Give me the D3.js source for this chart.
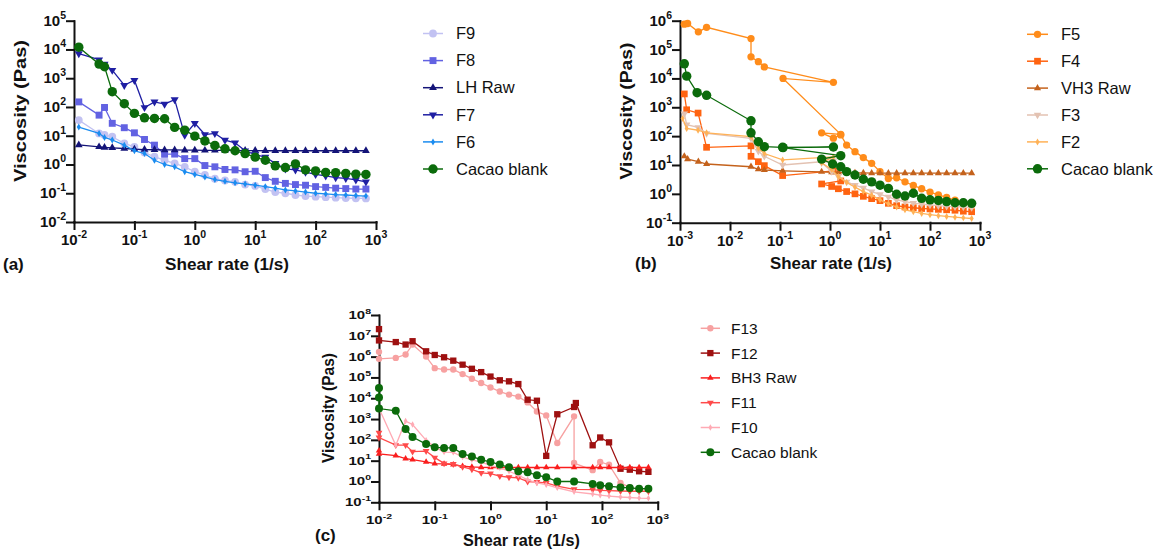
<!DOCTYPE html>
<html>
<head>
<meta charset="utf-8">
<script src="https://cdn.jsdelivr.net/npm/d3@7"></script>
<style>
  body { margin: 0; background: #fff; }
  svg { display: block; font-family: "Liberation Sans", Arial, sans-serif; }
</style>
</head>
<body>
<svg id="chart" width="1153" height="551"></svg>
<script>
// ---- panel (a) data: shear rate (1/s) and viscosity (Pas)
var aRate = [0.012, 0.026, 0.032, 0.043, 0.068, 0.1, 0.147, 0.215, 0.316, 0.464, 0.681, 1, 1.47, 2.15, 3.16, 4.64, 6.81, 10, 14.7, 21.5, 31.6, 46.4, 68.1, 100, 147, 215, 316, 464, 681];
var aF9 = [35, 12, 10.7, 9.2, 5.4, 4.1, 2.6, 1.86, 1.4, 1.1, 0.83, 0.56, 0.43, 0.32, 0.28, 0.25, 0.2, 0.18, 0.14, 0.11, 0.1, 0.087, 0.08, 0.076, 0.073, 0.07, 0.068, 0.067, 0.066];
var aF8 = [150, 52, 96, 27, 19, 12.6, 7.4, 4.7, 2.3, 2.3, 1.6, 1.6, 0.92, 0.83, 0.67, 0.65, 0.56, 0.58, 0.35, 0.26, 0.22, 0.2, 0.19, 0.17, 0.16, 0.15, 0.145, 0.14, 0.14];
var aLH = [4.8, 4.1, 3.9, 3.8, 3.6, 3.4, 3.3, 3.25, 3.2, 3.2, 3.15, 3.15, 3.1, 3.1, 3.1, 3.05, 3.05, 3.05, 3.0, 3.0, 3.0, 3.0, 3.0, 3.0, 3.0, 3.0, 3.0, 3.0, 3.0];
var aF7 = [7200, 4400, 3100, 1900, 570, 850, 96, 150, 125, 180, 10.5, 27, 11, 12, 7, 5.7, 3.0, 2.2, 1.8, 1.1, 0.7, 0.65, 0.54, 0.45, 0.4, 0.35, 0.33, 0.29, 0.25];
var aF6 = [20, 12, 8.7, 7.1, 4.7, 3.0, 2.4, 1.4, 1.0, 0.83, 0.56, 0.45, 0.37, 0.3, 0.26, 0.23, 0.21, 0.19, 0.17, 0.15, 0.13, 0.12, 0.11, 0.1, 0.095, 0.09, 0.087, 0.083, 0.08];
var aCacao = [1.2e4, 3.1e3, 2.5e3, 340, 130, 60, 42, 40, 39, 19.5, 15.6, 9.7, 6.6, 4.6, 3.5, 3.0, 2.4, 1.8, 1.4, 0.9, 0.78, 1.05, 0.65, 0.6, 0.53, 0.52, 0.49, 0.46, 0.45];

// ---- panel (b) data
var bF5Rate = [0.00122, 0.00142, 0.00233, 0.0034, 0.0263, 0.0263, 0.0369, 0.0486, 1.17, 0.115, 1.64, 0.68, 1.17, 1.64, 2.15, 3.16, 4.64, 6.81, 10, 14.7, 21.5, 31.6, 46.4, 68.1, 100, 147, 215, 316, 464, 681];
var bF5 = [7.6e5, 8e5, 4.1e5, 5.9e5, 2.4e5, 5.6e4, 3.8e4, 2.5e4, 7.3e3, 1e4, 115, 130, 85, 110, 49, 29, 18, 11.4, 5.9, 3.4, 3.6, 2.6, 1.95, 1.5, 1.15, 0.92, 0.75, 0.6, 0.5, 0.42];
var bF4Rate = [0.00122, 0.00136, 0.0023, 0.0034, 0.0263, 0.0263, 0.0369, 0.0486, 0.113, 1.17, 1.64, 0.68, 1.08, 1.47, 2.15, 3.16, 4.64, 6.81, 10, 14.7, 21.5, 31.6, 46.4, 68.1, 100, 147, 215, 316, 464, 681];
var bF4 = [2.9e3, 820, 630, 41, 46, 20, 13, 9.5, 4.3, 6.2, 2.8, 2.2, 1.8, 1.5, 1.2, 1.0, 0.82, 0.68, 0.58, 0.47, 0.39, 0.35, 0.33, 0.31, 0.3, 0.29, 0.28, 0.27, 0.25, 0.24];
var bVHRate = [0.00122, 0.00142, 0.00233, 0.0034, 0.0263, 0.0369, 0.0486, 0.113, 0.68, 1.08, 1.47, 2.15, 3.16, 4.64, 6.81, 10, 14.7, 21.5, 31.6, 46.4, 68.1, 100, 147, 215, 316, 464, 681];
var bVH = [20, 16, 13, 10.8, 8.7, 7.1, 6.7, 6.3, 5.8, 5.6, 5.5, 5.4, 5.3, 5.3, 5.2, 5.2, 5.2, 5.2, 5.2, 5.2, 5.2, 5.2, 5.2, 5.2, 5.2, 5.2, 5.2];
var bF3Rate = [0.00122, 0.00136, 0.0023, 0.0034, 0.0263, 0.0369, 0.0486, 0.113, 1.17, 0.68, 1.08, 1.47, 2.15, 3.16, 4.64, 6.81, 10, 14.7, 21.5, 31.6, 46.4, 68.1, 100, 147, 215, 316, 464, 681];
var bF3 = [600, 250, 200, 125, 84, 30, 20, 10, 14, 12, 6, 4, 2.6, 2.0, 1.6, 1.2, 0.95, 0.78, 0.62, 0.54, 0.48, 0.44, 0.41, 0.39, 0.37, 0.36, 0.35, 0.34];
var bF2Rate = [0.00113, 0.00136, 0.0023, 0.0034, 0.0263, 0.0369, 0.0486, 0.113, 1.17, 0.68, 1.08, 1.47, 2.15, 3.16, 4.64, 6.81, 10, 14.7, 21.5, 31.6, 46.4, 68.1, 100, 147, 215, 316, 464, 681];
var bF2 = [410, 185, 160, 130, 96, 38, 25, 15, 19, 12, 7, 4, 2.5, 1.7, 1.2, 0.9, 0.62, 0.45, 0.35, 0.28, 0.24, 0.21, 0.19, 0.175, 0.165, 0.155, 0.147, 0.14];
var bCacaoRate = [0.00122, 0.00136, 0.0022, 0.0034, 0.0263, 0.0263, 0.0369, 0.0486, 0.113, 1.17, 0.115, 1.64, 0.68, 1.13, 1.64, 2.15, 3.16, 4.64, 6.81, 10, 14.7, 21.5, 31.6, 46.4, 68.1, 100, 147, 215, 316, 464, 681];
var bCacao = [3.2e4, 1.2e4, 3.2e3, 2.6e3, 340, 130, 64, 43, 41, 42, 40, 21, 16, 10.8, 8.7, 5.9, 4.5, 3.2, 2.6, 2.0, 1.55, 0.97, 0.84, 1.05, 0.7, 0.62, 0.59, 0.54, 0.49, 0.49, 0.47];

// ---- panel (c) data
var cF13Rate = [0.01, 0.01, 0.02, 0.03, 0.04, 0.07, 0.1, 0.147, 0.215, 0.316, 0.464, 0.681, 1, 1.47, 2.15, 3.16, 4.64, 6.81, 10, 15.8, 31.6, 31.6, 68.1, 93, 134, 215, 316, 464, 681];
var cF13 = [1.7e6, 7.8e5, 8.7e5, 1.26e6, 3.8e6, 1.0e6, 2.8e5, 2.4e5, 2.4e5, 1.45e5, 8.7e4, 5.4e4, 3.3e4, 2.1e4, 1.5e4, 1.2e4, 6.3e3, 2.3e3, 1.5e3, 71, 1.35e3, 7.7, 3.5, 8.7, 6.4, 0.85, 0.52, 0.41, 0.45];
var cF12Rate = [0.01, 0.01, 0.02, 0.03, 0.04, 0.07, 0.1, 0.147, 0.215, 0.316, 0.464, 0.681, 1, 1.47, 2.15, 3.16, 4.64, 6.81, 10, 15.8, 31.6, 34, 68.1, 93, 134, 215, 316, 464, 681];
var cF12 = [2.1e7, 6e6, 5e6, 3.8e6, 5.5e6, 1.8e6, 1.2e6, 9.3e5, 6.4e5, 4.1e5, 2.6e5, 1.8e5, 1.1e5, 7.3e4, 6.5e4, 4.8e4, 8.5e3, 7.6e3, 17, 1.7e3, 3.8e3, 5.9e3, 55, 130, 76, 4.1, 3.7, 3.1, 2.9];
var cRawRate = [0.01, 0.01, 0.02, 0.03, 0.04, 0.07, 0.1, 0.147, 0.215, 0.316, 0.464, 0.681, 1, 1.47, 2.15, 3.16, 4.64, 6.81, 10, 15.8, 31.6, 68.1, 93, 134, 215, 316, 464, 681];
var cBH = [30, 21, 17.5, 12.5, 11.2, 8.7, 7.2, 7, 6.4, 5.4, 5.0, 4.8, 4.7, 4.7, 4.7, 4.7, 4.7, 4.7, 4.7, 4.7, 4.7, 4.7, 4.7, 4.7, 4.7, 4.7, 4.7, 4.7];
var cF11 = [220, 130, 56, 56, 27, 29, 14, 7.4, 6.9, 5, 3.8, 2.6, 2.4, 1.8, 1.6, 1.5, 1.0, 0.94, 0.85, 0.6, 0.42, 0.41, 0.37, 0.36, 0.35, 0.34, 0.34, 0.34];
var cF10Rate = [0.01, 0.02, 0.03, 0.04, 0.07, 0.1, 0.147, 0.215, 0.316, 0.464, 0.681, 1, 1.47, 2.15, 3.16, 4.64, 6.81, 10, 15.8, 31.6, 68.1, 93, 134, 215, 316, 464, 681];
var cF10 = [3.3e3, 55, 800, 550, 95, 45, 26, 25, 15, 11, 8.5, 6, 4.5, 3.1, 2.0, 1.2, 0.85, 0.7, 0.5, 0.32, 0.25, 0.22, 0.2, 0.18, 0.17, 0.16, 0.155];
var cCacaoRate = [0.01, 0.01, 0.01, 0.02, 0.03, 0.04, 0.07, 0.1, 0.147, 0.215, 0.316, 0.464, 0.681, 1, 1.47, 2.15, 3.16, 4.64, 6.81, 10, 15.8, 31.6, 68.1, 93, 134, 215, 316, 464, 681];
var cCacao = [3.1e4, 1.1e4, 3.2e3, 2.5e3, 330, 138, 63, 44, 41, 41, 21, 16, 11, 8.7, 6.5, 4.8, 3.1, 2.75, 2.0, 1.6, 1.0, 1.0, 0.76, 0.66, 0.59, 0.52, 0.49, 0.45, 0.45];

// tick exponents
var aXExp = [-2, -1, 0, 1, 2, 3], aYExp = [-2, -1, 0, 1, 2, 3, 4, 5];
var bXExp = [-3, -2, -1, 0, 1, 2, 3], bYExp = [-1, 0, 1, 2, 3, 4, 5, 6];
var cXExp = [-2, -1, 0, 1, 2, 3], cYExp = [-1, 0, 1, 2, 3, 4, 5, 6, 7, 8];

var green = "#0b6b0b";
var svg = d3.select("#chart");

function drawPanel(p) {
  var x = d3.scaleLog().domain(p.xDom).range(p.xRange);
  var y = d3.scaleLog().domain(p.yDom).range(p.yRange);
  var g = svg.append("g");

  // axes
  g.append("g")
    .attr("transform", `translate(0,${p.yRange[0]})`)
    .call(d3.axisBottom(x).tickValues(p.xExp.map(e => 10 ** e)).tickSize(7).tickSizeOuter(0).tickFormat(""));
  g.append("g")
    .attr("transform", `translate(${p.xRange[0]},0)`)
    .call(d3.axisLeft(y).tickValues(p.yExp.map(e => 10 ** e)).tickSize(7).tickSizeOuter(0).tickFormat(""));
  g.selectAll(".domain, .tick line").attr("stroke", "#111").attr("stroke-width", 2).attr("stroke-linecap", "square");

  // power-of-ten tick labels
  function pow(e, px, py, anchor) {
    var t = g.append("text")
      .attr("transform", `translate(${px},${py}) scale(1,${p.tickSy})`)
      .attr("text-anchor", anchor).attr("font-weight", "bold").attr("font-size", 15).attr("fill", "#111");
    t.append("tspan").text("10");
    t.append("tspan").attr("dy", -7).attr("font-size", 10.5).text(e);
  }
  p.xExp.forEach(e => pow(e, x(10 ** e), p.yRange[0] + p.xLabDy, "middle"));
  p.yExp.forEach(e => pow(e, p.xRange[0] - 8, y(10 ** e) + p.yLabDy, "end"));

  // axis titles
  g.append("text")
    .attr("transform", `translate(${p.yTitle[0]},${p.yTitle[1]}) rotate(-90)`)
    .attr("text-anchor", "middle").attr("font-weight", "bold").attr("font-size", p.yTitle[2])
    .attr("textLength", p.yTitle[3]).attr("lengthAdjust", "spacingAndGlyphs")
    .attr("fill", "#111").text("Viscosity (Pas)");
  g.append("text")
    .attr("x", p.xTitle[0]).attr("y", p.xTitle[1])
    .attr("text-anchor", "middle").attr("font-weight", "bold").attr("font-size", p.xTitle[2])
    .attr("textLength", p.xTitle[3]).attr("lengthAdjust", "spacingAndGlyphs")
    .attr("fill", "#111").text("Shear rate (1/s)");
  g.append("text")
    .attr("x", p.tag[0]).attr("y", p.tag[1])
    .attr("font-weight", "bold").attr("font-size", 17).attr("fill", "#111").text(p.tag[2]);

  // series
  var line = d3.line().x(d => x(d[0])).y(d => y(d[1]));
  p.series.forEach(s => {
    var pts = d3.zip(s.x, s.y);
    g.append("path").attr("d", line(pts)).attr("fill", "none").attr("stroke", s.color).attr("stroke-width", 1.3);
    g.selectAll(null).data(pts).enter().append("path")
      .attr("d", d3.symbol().type(s.shape).size(s.size))
      .attr("transform", d => `translate(${x(d[0])},${y(d[1])})` + (s.down ? " rotate(180)" : ""))
      .attr("fill", s.color);
  });

  // legend
  p.series.forEach((s, i) => {
    var ly = p.legend.y + i * p.legend.dy;
    g.append("line").attr("x1", p.legend.x1).attr("x2", p.legend.x2).attr("y1", ly).attr("y2", ly)
      .attr("stroke", s.color).attr("stroke-width", 1.5);
    g.append("path")
      .attr("d", d3.symbol().type(s.shape).size(s.size))
      .attr("transform", `translate(${(p.legend.x1 + p.legend.x2) / 2},${ly})` + (s.down ? " rotate(180)" : ""))
      .attr("fill", s.color);
    g.append("text").attr("x", p.legend.tx).attr("y", ly + p.legend.fs * 0.35)
      .attr("font-size", p.legend.fs).attr("fill", "#111").text(s.name);
  });
}

drawPanel({
  xDom: [1e-2, 1e3], xRange: [74, 376], yDom: [1e-2, 1e5], yRange: [222, 20.7],
  xExp: aXExp, yExp: aYExp, tickSy: 1, xLabDy: 23, yLabDy: 5,
  yTitle: [26, 111, 17, 142], xTitle: [227, 270, 17, 124], tag: [3, 270, "(a)"],
  legend: { x1: 423, x2: 443, tx: 456, y: 33.5, dy: 27.1, fs: 16.5 },
  series: [
    { name: "F9", x: aRate, y: aF9, color: "#c2c2f2", shape: d3.symbolCircle, size: 48 },
    { name: "F8", x: aRate, y: aF8, color: "#6262e2", shape: d3.symbolSquare, size: 48 },
    { name: "LH Raw", x: aRate, y: aLH, color: "#141478", shape: d3.symbolTriangle, size: 26 },
    { name: "F7", x: aRate, y: aF7, color: "#1f1fa3", shape: d3.symbolTriangle, size: 28, down: true },
    { name: "F6", x: aRate, y: aF6, color: "#1a8cf0", shape: d3.symbolDiamond, size: 14 },
    { name: "Cacao blank", x: aRate, y: aCacao, color: green, shape: d3.symbolCircle, size: 70 }
  ]
});

drawPanel({
  xDom: [1e-3, 1e3], xRange: [680, 980], yDom: [1e-1, 1e6], yRange: [222.7, 20.7],
  xExp: bXExp, yExp: bYExp, tickSy: 1, xLabDy: 23, yLabDy: 5,
  yTitle: [631.5, 111, 17, 137], xTitle: [831, 269, 16.5, 122], tag: [635, 269, "(b)"],
  legend: { x1: 1027, x2: 1048, tx: 1061, y: 34.3, dy: 26.9, fs: 16.5 },
  series: [
    { name: "F5", x: bF5Rate, y: bF5, color: "#ff8c1a", shape: d3.symbolCircle, size: 42 },
    { name: "F4", x: bF4Rate, y: bF4, color: "#ff6310", shape: d3.symbolSquare, size: 45 },
    { name: "VH3 Raw", x: bVHRate, y: bVH, color: "#c4621c", shape: d3.symbolTriangle, size: 22 },
    { name: "F3", x: bF3Rate, y: bF3, color: "#e3c2b2", shape: d3.symbolTriangle, size: 24, down: true },
    { name: "F2", x: bF2Rate, y: bF2, color: "#ffb257", shape: d3.symbolDiamond, size: 14 },
    { name: "Cacao blank", x: bCacaoRate, y: bCacao, color: green, shape: d3.symbolCircle, size: 70 }
  ]
});

drawPanel({
  xDom: [1e-2, 1e3], xRange: [379, 657.7], yDom: [1e-1, 1e8], yRange: [502.3, 315],
  xExp: cXExp, yExp: cYExp, tickSy: 0.75, xLabDy: 22, yLabDy: 4,
  yTitle: [334, 408, 16, 110], xTitle: [521.5, 546, 16, 117], tag: [315, 541, "(c)"],
  legend: { x1: 700.7, x2: 720, tx: 731, y: 328.3, dy: 24.8, fs: 15.5 },
  series: [
    { name: "F13", x: cF13Rate, y: cF13, color: "#f7a1a1", shape: d3.symbolCircle, size: 32 },
    { name: "F12", x: cF12Rate, y: cF12, color: "#9e1010", shape: d3.symbolSquare, size: 40 },
    { name: "BH3 Raw", x: cRawRate, y: cBH, color: "#fa1e1e", shape: d3.symbolTriangle, size: 18 },
    { name: "F11", x: cRawRate, y: cF11, color: "#ff4a4a", shape: d3.symbolTriangle, size: 20, down: true },
    { name: "F10", x: cF10Rate, y: cF10, color: "#ffaab4", shape: d3.symbolDiamond, size: 12 },
    { name: "Cacao blank", x: cCacaoRate, y: cCacao, color: green, shape: d3.symbolCircle, size: 50 }
  ]
});
</script>
</body>
</html>
